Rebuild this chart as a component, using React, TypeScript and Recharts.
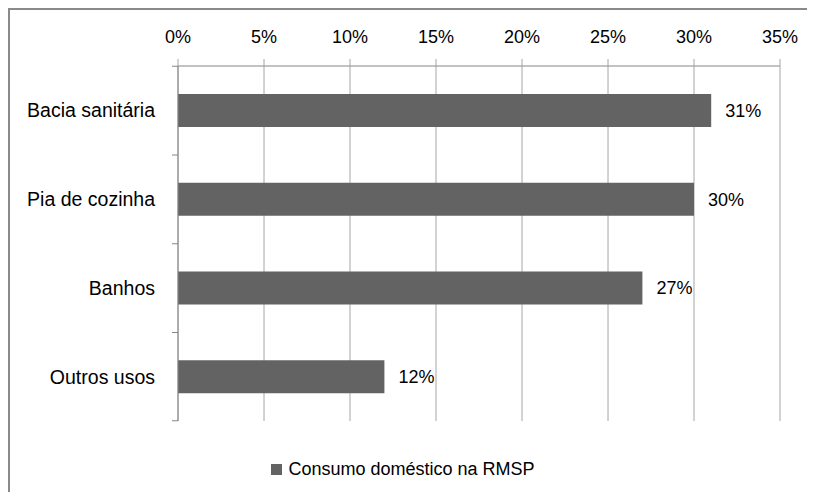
import { BarChart, Bar, XAxis, YAxis, CartesianGrid, Legend, LabelList } from "recharts";

const categories = ["Bacia sanitária", "Pia de cozinha", "Banhos", "Outros usos"];
const consumo = [31, 30, 27, 12];
const xTicks = [0, 5, 10, 15, 20, 25, 30, 35];
const seriesName = "Consumo doméstico na RMSP";

const data = categories.map((name, i) => ({ name, value: consumo[i] }));

const W = 807;
const H = 484;
const TOP = 58;
const BOTTOM = 49;
const LEGEND_H = 24;
const BAND = (H - TOP - BOTTOM - LEGEND_H) / categories.length;
const FONT = "'Liberation Sans', Arial, sans-serif";

const CategoryTick = (props: any) => {
  const { x, y, payload, index } = props;
  return (
    <g>
      <line x1={x - 6} x2={x} y1={y - BAND / 2} y2={y - BAND / 2} stroke="#868686" />
      {index === categories.length - 1 && (
        <line x1={x - 6} x2={x} y1={y + BAND / 2} y2={y + BAND / 2} stroke="#868686" />
      )}
      <text x={x - 23} y={y} dy={7} textAnchor="end" fill="#000" fontSize={19.5} fontFamily={FONT}>
        {payload.value}
      </text>
    </g>
  );
};

const LegendBox = () => (
  <div style={{ height: LEGEND_H, lineHeight: `${LEGEND_H}px`, textAlign: "center", fontFamily: FONT, fontSize: 18, color: "#000" }}>
    <span style={{ display: "inline-block", width: 11, height: 11, background: "#636363", marginRight: 6, verticalAlign: "middle" }} />
    <span style={{ verticalAlign: "middle" }}>{seriesName}</span>
  </div>
);

export default function App() {
  return (
    <div style={{ width: W, height: H, borderLeft: "2px solid #8a8a8a", borderTop: "2px solid #8a8a8a", boxSizing: "border-box" }}>
      <BarChart
        width={W - 2}
        height={H - 2}
        data={data}
        layout="vertical"
        margin={{ top: 6, right: 35, left: 0, bottom: BOTTOM - 2 }}
      >
        <CartesianGrid horizontal={false} stroke="#a6a6a6" />
        <XAxis
          type="number"
          orientation="top"
          domain={[0, 35]}
          ticks={xTicks}
          tickFormatter={(v) => `${v}%`}
          height={50}
          tickSize={7}
          tickMargin={16}
          interval={0}
          axisLine={{ stroke: "#868686" }}
          tickLine={{ stroke: "#a6a6a6" }}
          tick={{ fill: "#000", fontSize: 18, fontFamily: FONT }}
        />
        <YAxis
          type="category"
          dataKey="name"
          width={168}
          tickSize={0}
          tickMargin={0}
          tickLine={false}
          axisLine={{ stroke: "#868686" }}
          tick={<CategoryTick />}
        />
        <Legend
          verticalAlign="bottom"
          content={<LegendBox />}
          wrapperStyle={{ bottom: 12, left: 0, width: 786 }}
        />
        <Bar dataKey="value" name={seriesName} fill="#636363" barSize={33} isAnimationActive={false}>
          <LabelList
            dataKey="value"
            position="right"
            offset={14}
            formatter={(v: any) => `${v}%`}
            fill="#000"
            fontSize={18}
            fontFamily={FONT}
          />
        </Bar>
      </BarChart>
    </div>
  );
}
